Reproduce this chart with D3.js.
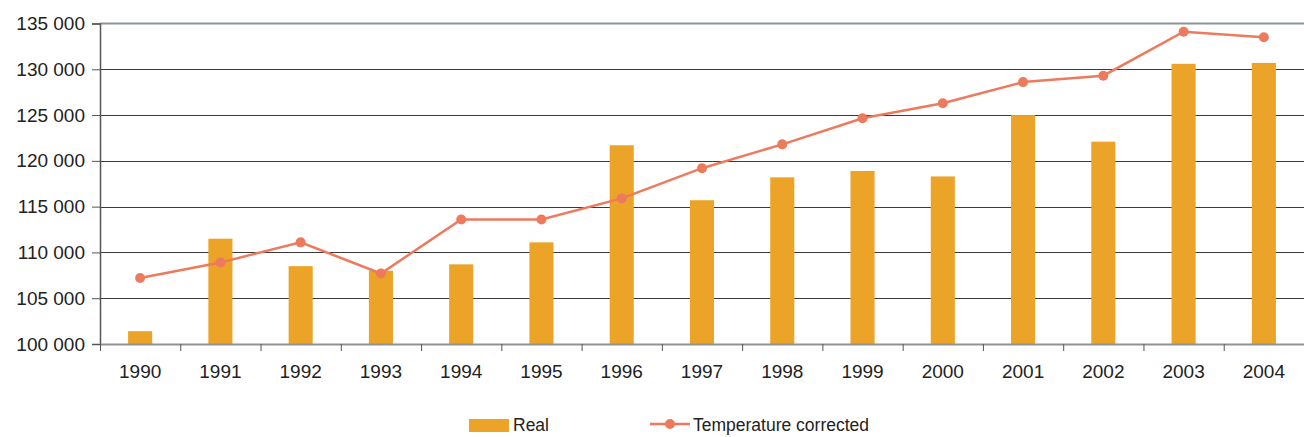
<!DOCTYPE html>
<html><head><meta charset="utf-8">
<script src="https://cdn.jsdelivr.net/npm/d3@7"></script>
<style>body{margin:0;background:#fff}svg{display:block;font-family:"Liberation Sans",Arial,sans-serif}</style>
</head><body><svg id="c" width="1304" height="437"></svg>
<script>
const years = ["1990","1991","1992","1993","1994","1995","1996","1997","1998","1999","2000","2001","2002","2003","2004"];
const realValues = [101400,111500,108500,108000,108700,111100,121700,115700,118200,118900,118300,125000,122100,130600,130700];
const correctedValues = [107200,108900,111100,107700,113600,113600,115900,119200,121800,124650,126300,128600,129300,134100,133500];
const yTicks = [100000,105000,110000,115000,120000,125000,130000,135000];
const seriesNames = ["Real","Temperature corrected"];

const barColor = "#EBA427", lineColor = "#EE7A5E";
const svg = d3.select("#c");
const L = 100, R = 1304, T = 23.5, B = 344;
const x = d3.scaleBand().domain(years).range([L, R]).paddingInner(0.7).paddingOuter(0.35);
const xb = d3.scaleBand().domain(years).range([L, R]);
const y = d3.scaleLinear().domain([100000, 135000]).range([B, T]);
const fmt = v => d3.format(",")(v).replace(/,/g, " ");

// gridlines
svg.append("g").selectAll("line").data(yTicks.filter(t => t > 100000 && t < 135000)).join("line")
  .attr("x1", L).attr("x2", R).attr("y1", d => Math.round(y(d)) + 0.5).attr("y2", d => Math.round(y(d)) + 0.5)
  .attr("stroke", "#3a3a3a").attr("stroke-width", 1);
// top line
svg.append("line").attr("x1", L).attr("x2", R).attr("y1", y(135000)).attr("y2", y(135000))
  .attr("stroke", "#8e9398").attr("stroke-width", 2);

// y axis
const yAxis = svg.append("g").attr("transform", `translate(${L},0)`)
  .call(d3.axisLeft(y).tickValues(yTicks).tickFormat(fmt).tickSize(8).tickPadding(7));
yAxis.select(".domain").attr("stroke", "#555").attr("stroke-width", 1.5);
yAxis.selectAll(".tick line").attr("stroke", "#555");
yAxis.selectAll("text").attr("font-size", "19px").attr("fill", "#222").attr("font-family", "Liberation Sans, Arial, sans-serif");

// bars
svg.append("g").selectAll("rect").data(years).join("rect")
  .attr("x", (d) => x(d)).attr("width", x.bandwidth())
  .attr("y", (d, i) => y(realValues[i])).attr("height", (d, i) => B - y(realValues[i]))
  .attr("fill", barColor);

// x axis
const xAxis = svg.append("g").attr("transform", `translate(0,${B})`)
  .call(d3.axisBottom(xb).tickSize(0).tickPadding(21));
xAxis.select(".domain").attr("stroke", "#8e9398").attr("stroke-width", 2);
xAxis.selectAll("text").attr("font-size", "19px").attr("fill", "#222").attr("font-family", "Liberation Sans, Arial, sans-serif");
svg.append("g").selectAll("line").data(years).join("line")
  .attr("x1", d => xb(d) + 0.5).attr("x2", d => xb(d) + 0.5).attr("y1", B).attr("y2", B + 7)
  .attr("stroke", "#555").attr("stroke-width", 1);

// line
const line = d3.line().x((d, i) => xb(years[i]) + xb.bandwidth() / 2).y(d => y(d));
svg.append("path").datum(correctedValues).attr("d", line).attr("fill", "none")
  .attr("stroke", lineColor).attr("stroke-width", 2.5);
svg.append("g").selectAll("circle").data(correctedValues).join("circle")
  .attr("cx", (d, i) => xb(years[i]) + xb.bandwidth() / 2).attr("cy", d => y(d)).attr("r", 5)
  .attr("fill", lineColor);

// legend
const lg = svg.append("g");
lg.append("rect").attr("x", 469).attr("y", 419).attr("width", 40).attr("height", 13).attr("fill", barColor);
lg.append("text").attr("x", 513).attr("y", 431).attr("font-size", "17.5px").attr("fill", "#222").text(seriesNames[0]);
lg.append("line").attr("x1", 650).attr("x2", 690).attr("y1", 424).attr("y2", 424).attr("stroke", lineColor).attr("stroke-width", 2.5);
lg.append("circle").attr("cx", 670).attr("cy", 424).attr("r", 5).attr("fill", lineColor);
lg.append("text").attr("x", 693).attr("y", 431).attr("font-size", "17.5px").attr("fill", "#222").text(seriesNames[1]);
</script></body></html>
